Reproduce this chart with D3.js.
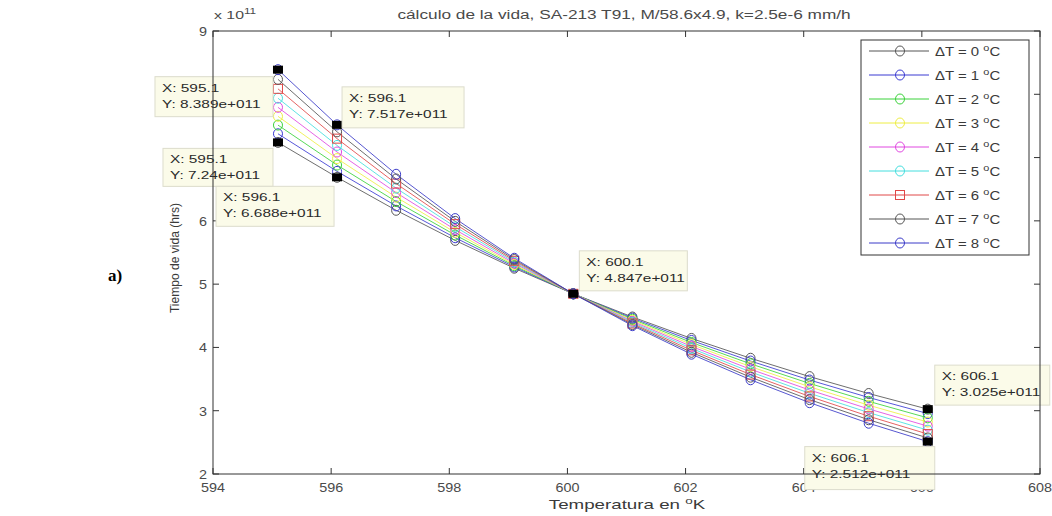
<!DOCTYPE html>
<html><head><meta charset="utf-8">
<script src="https://cdn.jsdelivr.net/npm/d3@7/dist/d3.min.js"></script>
<style>body{margin:0;background:#fff}svg{display:block}text{font-family:"Liberation Sans",Arial,sans-serif}</style>
</head><body><svg id="c" width="1052" height="516"></svg>
<script>
// Data (life in units of 1e11 hours)
const temps = [595.1,596.1,597.1,598.1,599.1,600.1,601.1,602.1,603.1,604.1,605.1,606.1];
const dT0 = [7.240,6.688,6.167,5.691,5.252,4.847,4.481,4.142,3.829,3.539,3.272,3.025];
const dT1 = [7.376,6.782,6.236,5.733,5.272,4.847,4.463,4.110,3.785,3.485,3.209,2.955];
const dT2 = [7.513,6.882,6.305,5.776,5.291,4.847,4.446,4.078,3.741,3.431,3.148,2.887];
const dT3 = [7.652,6.984,6.375,5.818,5.310,4.847,4.429,4.047,3.697,3.378,3.087,2.821];
const dT4 = [7.794,7.088,6.446,5.861,5.330,4.847,4.412,4.016,3.655,3.327,3.028,2.756];
const dT5 = [7.938,7.192,6.517,5.905,5.350,4.847,4.395,3.985,3.613,3.275,2.970,2.693];
const dT6 = [8.086,7.299,6.589,5.948,5.369,4.847,4.378,3.954,3.571,3.225,2.913,2.631];
const dT7 = [8.236,7.407,6.662,5.992,5.389,4.847,4.361,3.923,3.530,3.175,2.857,2.570];
const dT8 = [8.389,7.517,6.736,6.036,5.409,4.847,4.344,3.893,3.489,3.127,2.802,2.512];
const seriesNames = ["0","1","2","3","4","5","6","7","8"];
const xTicks = [594,596,598,600,602,604,606,608];
const yTicks = [2,3,4,5,6,7,8,9];
const tipX = [595.1,596.1,595.1,596.1,600.1,606.1,606.1];
const tipY = [8.389,7.517,7.240,6.688,4.847,3.025,2.512];
const tipYLabel = ["8.389e+011","7.517e+011","7.24e+011","6.688e+011","4.847e+011","3.025e+011","2.512e+011"];
const title = "cálculo de la vida, SA-213 T91, M/58.6x4.9, k=2.5e-6 mm/h";

// Styles
const colors = ["#555555","#3a3ad2","#3ad23a","#eeee44","#e048e0","#44dede","#e04848","#555555","#3a3ac8"];
const markers = ["circle","circle","circle","circle","circle","circle","square","circle","circle"];
// box offsets relative to the data point [dx, dy, w, h]
const tipBox = [[-123,7,118,40],[5,-38,122,41],[-115,6,110,38],[-121,9,118,40],[6,-43,108,40],[7,-44,115,40],[-123,5,130,43]];
const SX = 1.38; // horizontal stretch of the reference text

const allSeries = [dT0,dT1,dT2,dT3,dT4,dT5,dT6,dT7,dT8];
const svg = d3.select("#c");
const L=213, R=1040, T=31, B=474;
const x = d3.scaleLinear().domain([594,608]).range([L,R]);
const y = d3.scaleLinear().domain([2,9]).range([B,T]);

function stext(parent, px, py, sx, anchor, size, fill){
  const gg = parent.append("g").attr("transform",`translate(${px},${py}) scale(${sx},1)`);
  return gg.append("text").attr("text-anchor",anchor).attr("font-size",size).attr("fill",fill);
}
function sup(t, main, s, tail, size){
  t.append("tspan").text(main);
  t.append("tspan").attr("dy",-5).attr("font-size",size).text(s);
  if(tail) t.append("tspan").attr("dy",5).text(tail);
}

// a) label
svg.append("text").attr("x",108).attr("y",281)
  .style("font-family","'Liberation Serif',Times,serif").attr("font-weight","bold").attr("font-size",17).text("a)");

// title
stext(svg,624,19,SX,"middle",12.5,"#4a4a4a").text(title);
// x10^11
const ex = stext(svg,214,19,SX,"start",11.5,"#4a4a4a");
sup(ex,"x 10","11",null,8.5);

const g = svg.append("g");
xTicks.forEach(t=>{
  g.append("line").attr("x1",x(t)).attr("x2",x(t)).attr("y1",B).attr("y2",B-6).attr("stroke","#333");
  g.append("line").attr("x1",x(t)).attr("x2",x(t)).attr("y1",T).attr("y2",T+6).attr("stroke","#333");
  stext(g,x(t),B+18,1.15,"middle",12.5,"#4a4a4a").text(t);
});
yTicks.forEach(t=>{
  g.append("line").attr("x1",L).attr("x2",L+6).attr("y1",y(t)).attr("y2",y(t)).attr("stroke","#333");
  g.append("line").attr("x1",R).attr("x2",R-6).attr("y1",y(t)).attr("y2",y(t)).attr("stroke","#333");
  stext(g,L-6,y(t)+5,1.15,"end",12.5,"#4a4a4a").text(t);
});

// axis labels
const xl = stext(svg,627,509,1.5,"middle",12.5,"#3a3a3a");
sup(xl,"Temperatura en ","o","K",9);
svg.append("text").attr("transform","translate(179,258) rotate(-90) scale(1.05,1.15)").attr("text-anchor","middle")
  .attr("font-size",11.5).attr("fill","#3a3a3a").text("Tiempo de vida (hrs)");

// lines and markers
const line = d3.line().x((d,i)=>x(temps[i])).y(d=>y(d));
const plot = svg.append("g");
allSeries.forEach((s,k)=>{
  plot.append("path").datum(s).attr("d",line).attr("fill","none").attr("stroke",colors[k]).attr("stroke-width",1).attr("opacity",0.85);
});
allSeries.forEach((s,k)=>{
  s.forEach((v,i)=>{
    if(markers[k]==="square"){
      plot.append("rect").attr("x",x(temps[i])-4.5).attr("y",y(v)-4.5).attr("width",9).attr("height",9)
        .attr("fill","none").attr("stroke",colors[k]).attr("stroke-width",1);
    } else {
      plot.append("ellipse").attr("cx",x(temps[i])).attr("cy",y(v)).attr("rx",4.5).attr("ry",5)
        .attr("fill","none").attr("stroke",colors[k]).attr("stroke-width",1);
    }
  });
});

// data tips
tipX.forEach((tx,i)=>{
  const px=x(tx), py=y(tipY[i]);
  plot.append("rect").attr("x",px-5).attr("y",py-4).attr("width",10).attr("height",8).attr("fill","#000");
  const b=tipBox[i];
  const gb=svg.append("g").attr("transform",`translate(${px+b[0]},${py+b[1]})`);
  gb.append("rect").attr("width",b[2]).attr("height",b[3]).attr("fill","#fbfbe9").attr("stroke","#dcdccc").attr("stroke-width",1);
  stext(gb,7,15,1.4,"start",11,"#2a2a2a").text("X: "+tx);
  stext(gb,7,31,1.4,"start",11,"#2a2a2a").text("Y: "+tipYLabel[i]);
});

// axes box
svg.append("rect").attr("x",L).attr("y",T).attr("width",R-L).attr("height",B-T).attr("fill","none").attr("stroke","#333").attr("stroke-width",1);

// legend
const lg = svg.append("g").attr("transform","translate(861,40)");
lg.append("rect").attr("width",168).attr("height",215).attr("fill","#fff").attr("stroke","#333");
seriesNames.forEach((n,k)=>{
  const yy=11+k*24;
  lg.append("line").attr("x1",8).attr("x2",68).attr("y1",yy).attr("y2",yy).attr("stroke",colors[k]);
  if(markers[k]==="square") lg.append("rect").attr("x",34.5).attr("y",yy-4.5).attr("width",9).attr("height",9).attr("fill","none").attr("stroke",colors[k]);
  else lg.append("ellipse").attr("cx",39).attr("cy",yy).attr("rx",4.5).attr("ry",5).attr("fill","none").attr("stroke",colors[k]);
  const t = stext(lg,74,yy+5,1.15,"start",13,"#3a3a3a");
  sup(t,"ΔT = "+n+" ","o","C",9.5);
});
</script></body></html>
